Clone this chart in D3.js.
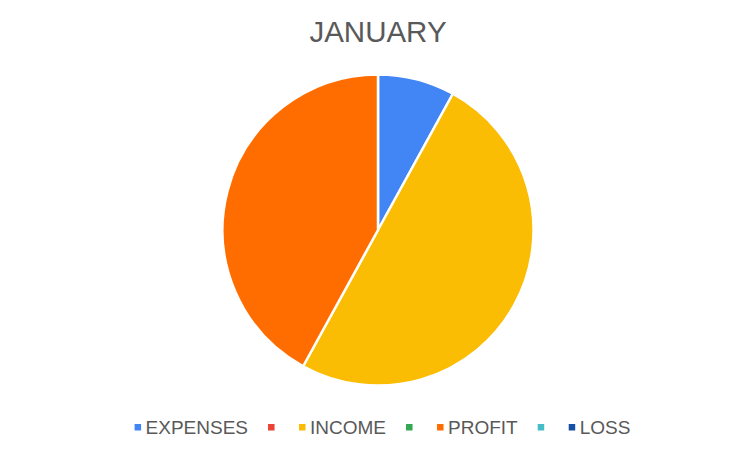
<!DOCTYPE html>
<html>
<head>
<meta charset="utf-8">
<script src="https://cdn.jsdelivr.net/npm/d3@7"></script>
<style>
  body { margin: 0; background: #fff; }
  text { font-family: "Liberation Sans", Arial, sans-serif; }
</style>
</head>
<body>
<script>
const width = 739;
const height = 450;

// legend entries, some series have no name
const labels = ["EXPENSES", "", "INCOME", "", "PROFIT", "", "LOSS"];
const values = [800, 0, 5000, 0, 4200, 0, 0];
const colors = ["#4285F4", "#EA4335", "#FBBC04", "#34A853", "#FF6D01", "#46BDC6", "#174EA6"];
const title = "JANUARY";

const data = labels.map((l, i) => ({ label: l, value: values[i], color: colors[i] }));

const svg = d3.select("body")
  .append("svg")
  .attr("width", width)
  .attr("height", height);

svg.append("text")
  .attr("x", 378)
  .attr("y", 42)
  .attr("text-anchor", "middle")
  .attr("font-size", 29.5)
  .attr("fill", "#595959")
  .text(title);

const radius = 155.5;
const pie = d3.pie().sort(null).value(d => d.value);
const arc = d3.arc().innerRadius(0).outerRadius(radius);

const g = svg.append("g")
  .attr("transform", "translate(378,230)");

g.selectAll("path")
  .data(pie(data).filter(d => d.data.value > 0))
  .enter()
  .append("path")
  .attr("d", arc)
  .attr("fill", d => d.data.color)
  .attr("stroke", "#fff")
  .attr("stroke-width", 2.5)
  .attr("stroke-linejoin", "round");

// legend, laid out left to right
const legend = svg.append("g");
let x = 0;
data.forEach(d => {
  const item = legend.append("g").attr("transform", `translate(${x},0)`);
  item.append("rect")
    .attr("x", 0)
    .attr("y", -3)
    .attr("width", 6.5)
    .attr("height", 6.5)
    .attr("fill", d.color);
  const t = item.append("text")
    .attr("x", 11)
    .attr("y", 6.8)
    .attr("font-size", 19)
    .attr("fill", "#595959")
    .text(d.label);
  x += 31 + (d.label ? t.node().getComputedTextLength() : 0);
});
const legendWidth = x - 20;
legend.attr("transform", `translate(${382.5 - legendWidth / 2},427)`);
</script>
</body>
</html>
